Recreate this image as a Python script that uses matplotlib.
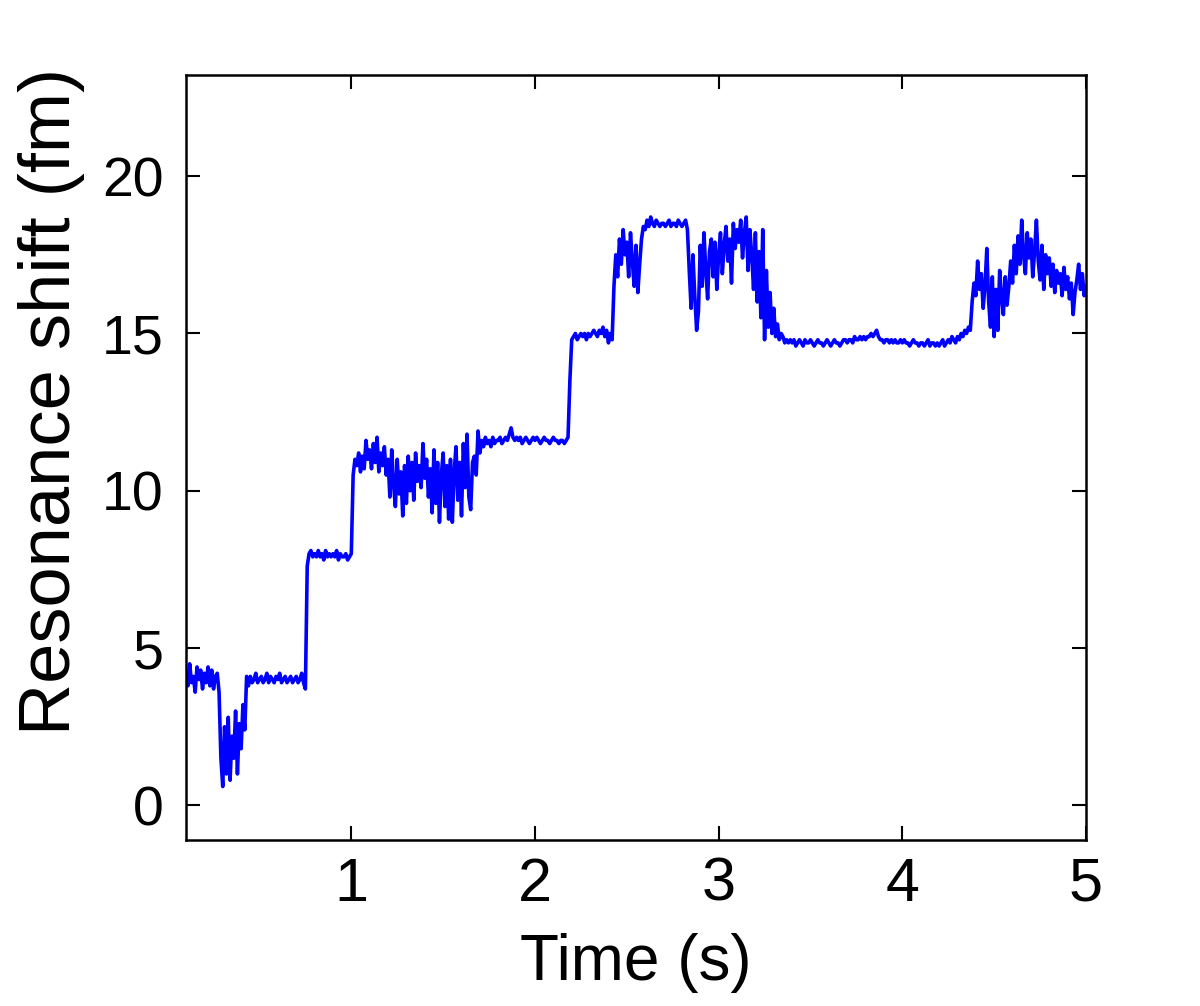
import numpy as np
import matplotlib
matplotlib.use("Agg")
import matplotlib.pyplot as plt

plt.rcParams['font.family'] = ['Liberation Sans', 'DejaVu Sans']

# resonance shift (fm), sampled every 0.01 s from t = 0.10 s to 5.00 s
shift_a = [4.2, 3.8, 4.5, 3.9, 4.1, 3.6, 4.4, 4.0, 4.3, 3.7,
           4.2, 3.9, 4.4, 3.8, 4.3, 3.7, 4.1, 4.2, 3.6, 1.5,
           0.6, 2.5, 1.0, 2.8, 0.8, 2.2, 1.5, 3.0, 1.0, 2.6,
           1.8, 3.2, 2.4, 4.1, 3.8, 4.1, 3.9, 4.0, 4.2, 3.9,
           4.0, 4.1, 3.9, 4.0, 4.2, 3.9, 4.1, 4.0, 3.9, 4.1,
           4.0, 4.2, 3.9, 4.0, 4.1, 3.9, 4.0, 4.1, 3.9, 4.0,
           4.1, 3.9, 4.0, 4.2, 3.9, 3.7, 7.6, 8.0, 8.1, 7.9]
shift_b = [8.0, 7.9, 8.1, 7.9, 8.0, 7.8, 8.1, 7.9, 8.0, 7.9,
           8.0, 7.9, 8.1, 7.8, 8.0, 7.9, 7.9, 8.0, 7.8, 7.9,
           8.0, 10.5, 11.0, 10.8, 11.2, 10.6, 11.1, 10.7, 11.6, 11.0,
           11.3, 10.7, 11.5, 10.9, 11.7, 10.6, 11.2, 10.8, 11.4, 10.5,
           11.0, 9.8, 11.3, 10.2, 9.5, 11.0, 9.9, 10.6, 9.2, 10.8,
           9.6, 11.1, 10.0, 10.9, 9.7, 11.2, 10.3, 10.8, 10.1, 11.5,
           10.4, 11.0, 9.8, 10.7, 9.3, 11.3, 9.6, 10.9, 9.0, 10.5,
           11.2, 9.5, 10.8, 9.1, 11.0, 9.0, 10.6, 11.4, 9.7, 10.9,
           9.2, 11.5, 10.1, 11.8, 9.8, 9.4, 10.9, 11.1, 10.5, 11.9]
shift_c = [11.2, 11.6, 11.4, 11.7, 11.5, 11.6, 11.4, 11.7, 11.5, 11.6,
           11.6, 11.7, 11.5, 11.6, 11.7, 11.6, 11.8, 12.0, 11.7, 11.6,
           11.7, 11.6, 11.7, 11.5, 11.6, 11.7, 11.6, 11.5, 11.6, 11.7,
           11.6, 11.7, 11.6, 11.5, 11.6, 11.7, 11.6, 11.6, 11.5, 11.6,
           11.7, 11.6, 11.6, 11.5, 11.6, 11.6, 11.5, 11.6, 11.7, 13.5,
           14.8, 14.9, 15.0, 14.8, 14.9, 15.0, 14.9, 15.0, 14.8, 15.0,
           14.9, 15.0, 15.1, 15.0, 14.9, 15.1, 15.0, 15.2, 14.9, 15.1]
shift_d = [14.7, 15.0, 14.8, 16.5, 17.5, 16.8, 18.0, 17.2, 18.3, 17.5,
           17.9, 16.8, 18.2, 17.3, 16.5, 17.8, 16.3, 17.2, 18.0, 18.4,
           18.3, 18.6, 18.4, 18.7, 18.5, 18.4, 18.6, 18.5, 18.4, 18.5,
           18.5, 18.4, 18.5, 18.6, 18.4, 18.5, 18.5, 18.4, 18.6, 18.5,
           18.4, 18.5, 18.6, 18.3, 17.0, 15.8, 17.5, 16.2, 15.1, 15.7,
           17.8, 16.5, 18.2, 17.0, 16.1, 17.6, 18.0, 16.8, 17.9, 16.4,
           17.5, 18.2, 16.9, 17.8, 18.4, 17.3, 18.0, 16.6, 18.5, 17.7,
           18.3, 17.9, 18.6, 17.4, 18.2, 18.7, 17.0, 18.3, 17.5, 16.4,
           18.2, 16.0, 17.6, 15.5, 18.3, 14.8, 17.0, 15.2, 16.3, 15.0,
           15.8, 14.9, 15.3, 14.8, 15.0, 14.9, 14.7, 14.8, 14.7, 14.8]
shift_e = [14.7, 14.8, 14.6, 14.7, 14.8, 14.7, 14.6, 14.8, 14.7, 14.7,
           14.8, 14.7, 14.6, 14.7, 14.8, 14.7, 14.7, 14.6, 14.7, 14.8,
           14.7, 14.6, 14.7, 14.8, 14.7, 14.7, 14.6, 14.7, 14.8, 14.8,
           14.7, 14.8, 14.8, 14.7, 14.9, 14.8, 14.8, 14.9, 14.8, 14.9,
           14.8, 14.9, 14.9, 15.0, 14.9, 15.0, 15.1, 14.9, 14.8, 14.8,
           14.7, 14.8, 14.8, 14.7, 14.8, 14.7, 14.8, 14.7, 14.7, 14.8,
           14.7, 14.8, 14.7, 14.7, 14.6, 14.7, 14.8, 14.7, 14.7, 14.6,
           14.7, 14.7, 14.6, 14.7, 14.8, 14.6, 14.7, 14.7, 14.6, 14.7,
           14.6, 14.7, 14.8, 14.6, 14.7, 14.8, 14.7, 14.9, 14.8, 14.7]
shift_f = [14.9, 14.8, 15.0, 14.9, 15.1, 15.0, 15.2, 15.1, 16.0, 16.6,
           16.2, 17.3, 16.4, 16.9, 15.8, 16.5, 17.7, 16.0, 15.2, 16.8,
           14.9, 16.4, 15.1, 17.0, 16.2, 15.6, 16.8, 15.9, 16.5, 17.3,
           16.6, 17.8, 16.9, 18.1, 17.2, 18.6, 17.5, 16.9, 18.2, 17.4,
           18.0, 16.8, 17.6, 18.6, 17.3, 16.7, 17.8, 16.4, 17.5, 16.9,
           17.4, 16.5, 17.2, 16.3, 17.0, 16.6, 16.9, 16.2, 17.1, 16.4,
           16.8, 16.1, 16.6, 15.6, 16.3, 16.7, 17.2, 16.4, 16.9, 16.2,
           16.5]

shift = np.array(shift_a + shift_b + shift_c + shift_d + shift_e + shift_f)
time = np.linspace(0.10, 5.00, len(shift))

x_ticks = [1, 2, 3, 4, 5]
y_ticks = [0, 5, 10, 15, 20]

fig = plt.figure(figsize=(12, 10.06), dpi=100)
ax = fig.add_axes([0.155, 0.165, 0.75, 0.760])

ax.plot(time, shift, color='#0000ff', lw=2.6)

ax.set_xlim(0.1, 5.0)
ax.set_ylim(-1.1, 23.2)
ax.set_xticks(x_ticks)
ax.set_yticks(y_ticks)
ax.tick_params(direction='in', length=10, width=1.5, top=True, right=True)
ax.tick_params(axis='x', labelsize=44, pad=12)
ax.tick_params(axis='y', labelsize=40, pad=16)
for s in ax.spines.values():
    s.set_linewidth(1.8)

ax.set_xlabel('Time (s)', fontsize=46, labelpad=14)
ax.set_ylabel('Resonance shift (fm)', fontsize=52)
ax.yaxis.set_label_coords(-0.112, 0.573)

fig.savefig('out.png', dpi=100)
